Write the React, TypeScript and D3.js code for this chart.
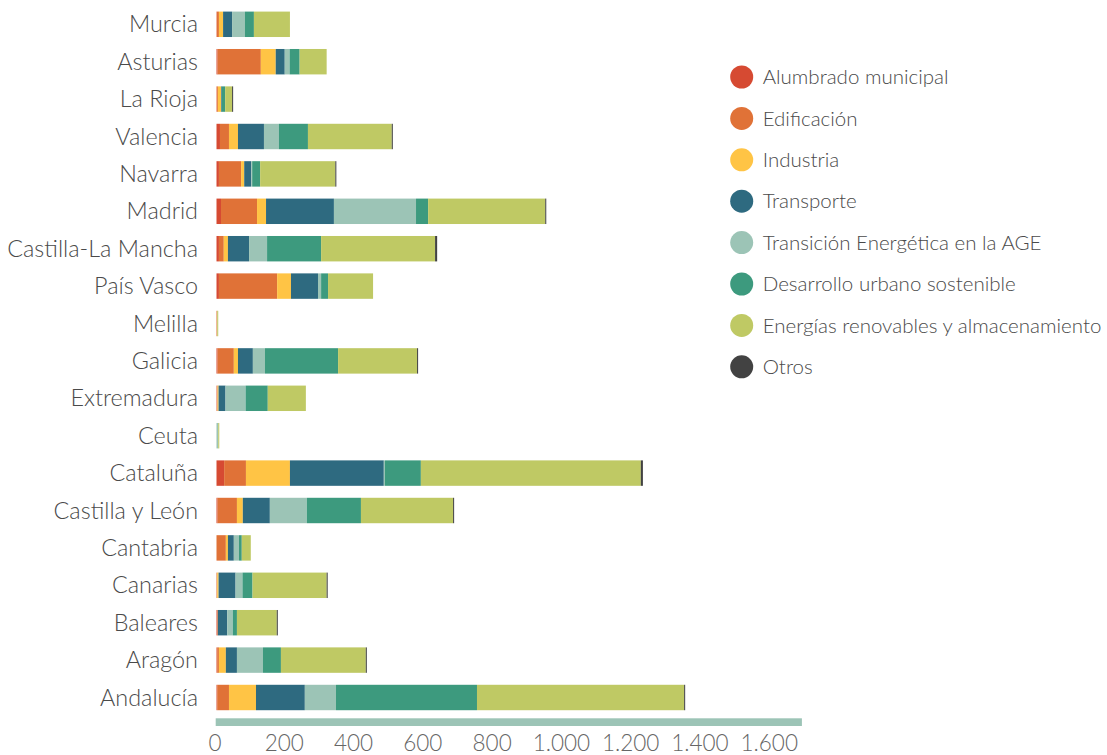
import * as React from "react";
import * as d3 from "d3";

const regions = [
  "Murcia",
  "Asturias",
  "La Rioja",
  "Valencia",
  "Navarra",
  "Madrid",
  "Castilla-La Mancha",
  "País Vasco",
  "Melilla",
  "Galicia",
  "Extremadura",
  "Ceuta",
  "Cataluña",
  "Castilla y León",
  "Cantabria",
  "Canarias",
  "Baleares",
  "Aragón",
  "Andalucía",
];

const seriesNames = [
  "Alumbrado municipal",
  "Edificación",
  "Industria",
  "Transporte",
  "Transición Energética en la AGE",
  "Desarrollo urbano sostenible",
  "Energías renovables y almacenamiento",
  "Otros",
];
const seriesColors = [
  "#d64a32",
  "#e07237",
  "#ffc445",
  "#2e6a80",
  "#9cc4b6",
  "#3d9a7e",
  "#bfc964",
  "#424242",
];

// values per region (same order as regions)
const alumbrado = [1, 3, 1, 10, 7, 13, 7, 7, 0, 3, 1, 0, 22, 3, 0, 0, 2, 2, 2];
const edificacion = [6, 125, 3, 26, 64, 104, 14, 168, 2, 47, 2, 0, 63, 56, 27, 2, 2, 5, 34];
const industria = [12, 43, 9, 26, 9, 26, 12, 40, 0, 12, 3, 0, 127, 17, 6, 4, 0, 20, 78];
const transporte = [26, 26, 2, 75, 20, 196, 61, 78, 0, 43, 20, 0, 271, 78, 17, 49, 27, 32, 141];
const transicion = [37, 14, 0, 43, 3, 237, 52, 9, 0, 35, 58, 5, 3, 107, 15, 20, 16, 75, 90];
const desarrollo = [26, 29, 10, 84, 23, 35, 156, 20, 0, 211, 64, 0, 104, 156, 8, 29, 12, 52, 407];
const renovables = [104, 78, 20, 242, 217, 338, 329, 130, 3, 228, 110, 3, 635, 266, 26, 214, 115, 245, 598];
const otros = [0, 0, 3, 3, 3, 3, 6, 0, 0, 3, 0, 0, 6, 3, 0, 3, 3, 3, 3];

const tickValues = [0, 200, 400, 600, 800, 1000, 1200, 1400, 1600];

const seriesValues = [
  alumbrado,
  edificacion,
  industria,
  transporte,
  transicion,
  desarrollo,
  renovables,
  otros,
];

export default function App() {
  const ref = React.useRef<HTMLDivElement | null>(null);

  React.useEffect(() => {
    const width = 1107;
    const height = 755;
    const font = "Lato, 'Open Sans', sans-serif";

    const svg = d3
      .select(ref.current)
      .append("svg")
      .attr("width", width)
      .attr("height", height)
      .style("display", "block");

    const rows = regions.map((r, i) => {
      const row: Record<string, number | string> = { region: r };
      seriesNames.forEach((s, j) => (row[s] = seriesValues[j][i]));
      return row;
    });

    const stacked = d3
      .stack<Record<string, number | string>>()
      .keys(seriesNames)
      .value((d, k) => d[k] as number)(rows);

    const x = d3.scaleLinear().domain([0, 1690]).range([216.5, 801.9]);
    const y = d3
      .scaleBand()
      .domain(regions)
      .range([5.6, 716.2])
      .paddingInner(0.32)
      .paddingOuter(0.16);

    // bars
    svg
      .append("g")
      .selectAll("g")
      .data(stacked)
      .join("g")
      .attr("fill", (_, i) => seriesColors[i])
      .selectAll("rect")
      .data((d) => d)
      .join("rect")
      .attr("x", (d) => x(d[0]))
      .attr("y", (d) => y(d.data.region as string)!)
      .attr("width", (d) => Math.max(0, x(d[1]) - x(d[0])))
      .attr("height", y.bandwidth());

    // region labels
    svg
      .append("g")
      .selectAll("text")
      .data(regions)
      .join("text")
      .attr("x", 198)
      .attr("y", (d) => y(d)! + y.bandwidth() / 2)
      .attr("dy", "0.35em")
      .attr("text-anchor", "end")
      .attr("font-family", font)
      .attr("font-weight", 300)
      .attr("font-size", 23.4)
      .attr("fill", "#4a4a4a")
      .text((d) => d);

    // axis band
    svg
      .append("rect")
      .attr("x", x(0) - 0.8)
      .attr("y", 718.3)
      .attr("width", x(1690) - x(0) + 0.8)
      .attr("height", 7.7)
      .attr("fill", "#9cc4b6");

    svg
      .append("g")
      .selectAll("text")
      .data(tickValues)
      .join("text")
      .attr("x", (d) => x(d) - 1.5)
      .attr("y", 751)
      .attr("text-anchor", "middle")
      .attr("font-family", font)
      .attr("font-weight", 300)
      .attr("font-size", 22.5)
      .attr("fill", "#666")
      .text((d) => d3.format(",")(d).replace(/,/g, "."));

    // legend
    const legend = svg
      .append("g")
      .selectAll("g")
      .data(seriesNames)
      .join("g")
      .attr("transform", (_, i) => `translate(741.7, ${77 + i * 41.4})`);

    legend
      .append("circle")
      .attr("r", 11.5)
      .attr("fill", (_, i) => seriesColors[i]);

    legend
      .append("text")
      .attr("x", 21)
      .attr("dy", "0.35em")
      .attr("font-family", font)
      .attr("font-weight", 300)
      .attr("font-size", 20.5)
      .attr("fill", "#4a4a4a")
      .text((d) => d);

    return function cleanup() {
      d3.select(ref.current).selectAll("svg").remove();
    };
  }, []);

  return (
    <div
      ref={ref}
      style={{ position: "absolute", left: 0, top: 0, width: 1107, height: 755 }}
    ></div>
  );
}
